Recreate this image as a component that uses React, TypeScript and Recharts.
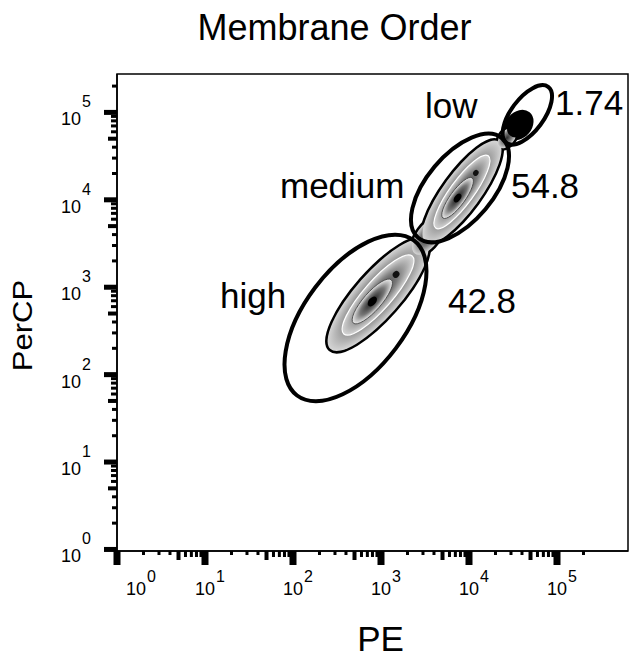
import { ReferenceArea, Scatter, ScatterChart, XAxis, YAxis } from "recharts";

const FONT = '"Liberation Sans", Arial, sans-serif';

// axis ranges (PE on x, PerCP on y, both log)
const peDomain = [1, 641000];
const percpDomain = [0.96, 275000];

const majorTicks = [1, 10, 100, 1000, 10000, 100000];
const minorSteps = [2, 3, 4, 5, 6, 7, 8, 9];
const axisTicks = majorTicks
	.flatMap((m) => [m, ...minorSteps.map((s) => s * m)])
	.filter((v) => v <= 200000);

// cell populations: centre and tip of the long axis, width ratio
const populations = [
	{ pe: 925, percp: 815, tipPe: 3206, tipPercp: 3390, ratio: 0.31, kind: "core" },
	{ pe: 3420, percp: 3857, tipPe: 4830, tipPercp: 6137, ratio: 0.5, kind: "plain" },
	{ pe: 8318, percp: 12300, tipPe: 21630, tipPercp: 46100, ratio: 0.3, kind: "core" },
	{ pe: 27040, percp: 51050, tipPe: 33040, tipPercp: 65000, ratio: 0.6, kind: "plain" },
	{ pe: 37000, percp: 71900, tipPe: 46800, tipPercp: 95200, ratio: 0.75, kind: "dense" },
];

// elliptical gates
const gates = [
	{ name: "high", pe: 513, percp: 445, tipPe: 2366, tipPercp: 3430, ratio: 0.52 },
	{ name: "medium", pe: 7900, percp: 13660, tipPe: 23600, tipPercp: 50800, ratio: 0.51 },
	{ name: "low", pe: 46000, percp: 93600, tipPe: 79400, tipPercp: 196000, ratio: 0.47 },
];

const gateLabels = [
	{ text: "low", pe: 3334, percp: 86500 },
	{ text: "1.74", pe: 100000, percp: 93600 },
	{ text: "medium", pe: 75, percp: 10500 },
	{ text: "54.8", pe: 31600, percp: 10500 },
	{ text: "high", pe: 15.6, percp: 580 },
	{ text: "42.8", pe: 6080, percp: 508 },
];

const geom = (p: any, ratio: number) => {
	const { x, y, width, height } = p;
	const rx = Math.hypot(width, height);
	const ang = (-Math.atan2(height, width) * 180) / Math.PI;
	return { rx, ry: rx * ratio, t: `translate(${x},${y + height}) rotate(${ang})` };
};

const blob = (p: any, c: any, pass: string) => {
	const { rx, ry, t } = geom(p, c.ratio);
	if (pass === "outline")
		return <ellipse transform={t} rx={rx} ry={ry} fill="none" stroke="#000" strokeWidth={5} />;
	if (pass === "fill")
		return <ellipse transform={t} rx={rx} ry={ry} fill={c.kind === "dense" ? "#000" : "url(#lvl)"} />;
	if (c.kind !== "core") return <g />;
	return (
		<g transform={t}>
			<ellipse rx={rx * 0.72} ry={ry * 0.64} fill="url(#lvl)" stroke="#fff" strokeWidth={1.2} />
			<ellipse cx={-rx * 0.12} rx={rx * 0.4} ry={ry * 0.4} fill="url(#lvl2)" stroke="#444" strokeWidth={0.8} />
			<ellipse cx={-rx * 0.12} rx={rx * 0.08} ry={ry * 0.16} fill="#000" />
			<ellipse cx={rx * 0.38} rx={rx * 0.05} ry={ry * 0.14} fill="#111" />
		</g>
	);
};

const gateShape = (p: any, g: any) => {
	const { rx, ry, t } = geom(p, g.ratio);
	return <ellipse transform={t} rx={rx} ry={ry} fill="none" stroke="#000" strokeWidth={4} />;
};

const mantissa = (v: number) => {
	const exp = Math.floor(Math.log10(v) + 1e-9);
	return { exp, m: Math.round(v / Math.pow(10, exp)) };
};

const XTick = (props: any) => {
	const { x, y, payload } = props;
	const { exp, m } = mantissa(payload.value);
	let mark;
	if (m === 1) mark = <rect x={x - 3.5} y={y} width={7} height={14} fill="#000" />;
	else if (m === 5) mark = <rect x={x - 2} y={y} width={4} height={9} fill="#000" />;
	else if (m > 5) mark = <rect x={x - 1.5} y={y} width={3} height={6} fill="#000" />;
	else mark = <rect x={x - 1.5} y={y} width={3} height={4} fill="#000" />;
	return (
		<g>
			{mark}
			{m === 1 && (
				<text x={exp === 0 ? x + 9 : x - 10} y={y + 44} fontSize={18} fontFamily={FONT} fill="#000">
					10
					<tspan dx={1} dy={-13} fontSize={16}>
						{exp}
					</tspan>
				</text>
			)}
		</g>
	);
};

const YTick = (props: any) => {
	const { x, y, payload } = props;
	const { exp, m } = mantissa(payload.value);
	let mark;
	if (m === 1) mark = <rect x={x - 13} y={y - 2.5} width={13} height={5} fill="#000" />;
	else if (m === 5) mark = <rect x={x - 9} y={y - 2} width={9} height={4} fill="#000" />;
	else if (m > 5) mark = <rect x={x - 6} y={y - 1.5} width={6} height={3} fill="#000" />;
	else mark = <rect x={x - 5} y={y - 1.5} width={5} height={3} fill="#000" />;
	return (
		<g>
			{mark}
			{m === 1 && (
				<text x={61} y={y + 13} fontSize={18} fontFamily={FONT} fill="#000">
					10
					<tspan dx={1} dy={-18} fontSize={16}>
						{exp}
					</tspan>
				</text>
			)}
		</g>
	);
};

const renderLabel = (p: any) => (
	<text x={p.cx - 2} y={p.cy} fontSize={35} fontFamily={FONT} fill="#000">
		{p.payload.text}
	</text>
);

export default function App() {
	return (
		<div style={{ position: "absolute", left: 0, top: 0, width: 629, height: 660, background: "#fff" }}>
			<svg width="0" height="0" style={{ position: "absolute" }}>
				<defs>
					<radialGradient id="lvl" cx="50%" cy="50%" r="50%">
						<stop offset="0%" stopColor="#2e2e2e" />
						<stop offset="55%" stopColor="#7c7c7c" />
						<stop offset="100%" stopColor="#d6d6d6" />
					</radialGradient>
					<radialGradient id="lvl2" cx="50%" cy="50%" r="50%">
						<stop offset="0%" stopColor="#1a1a1a" />
						<stop offset="60%" stopColor="#777" />
						<stop offset="100%" stopColor="#ececec" />
					</radialGradient>
				</defs>
			</svg>
			<div
				style={{
					position: "absolute",
					left: 40,
					top: 10,
					width: 589,
					textAlign: "center",
					fontFamily: FONT,
					fontSize: 36,
					lineHeight: "36px",
				}}
			>
				Membrane Order
			</div>
			<ScatterChart width={629} height={660} margin={{ top: 74, right: 1, left: 0, bottom: 0 }}>
				<XAxis
					type="number"
					dataKey="pe"
					scale="log"
					domain={peDomain}
					allowDataOverflow
					ticks={axisTicks}
					interval={0}
					tick={<XTick />}
					tickLine={false}
					tickSize={0}
					tickMargin={0}
					axisLine={{ stroke: "#000", strokeWidth: 1.5 }}
					height={109}
					label={{
						content: (lp: any) => (
							<text
								x={lp.viewBox.x + lp.viewBox.width / 2 + 8}
								y={651}
								textAnchor="middle"
								fontSize={35}
								fontFamily={FONT}
							>
								PE
							</text>
						),
					}}
				/>
				<YAxis
					type="number"
					dataKey="percp"
					scale="log"
					domain={percpDomain}
					allowDataOverflow
					ticks={axisTicks}
					interval={0}
					tick={<YTick />}
					tickLine={false}
					tickSize={0}
					tickMargin={0}
					axisLine={{ stroke: "#000", strokeWidth: 1.5 }}
					width={117}
					label={{
						content: (lp: any) => (
							<text
								transform={`translate(32, ${lp.viewBox.y + lp.viewBox.height / 2 + 13}) rotate(-90) scale(1.15, 1)`}
								textAnchor="middle"
								fontSize={27}
								fontFamily={FONT}
							>
								PerCP
							</text>
						),
					}}
				/>
				{populations.map((c, i) => (
					<ReferenceArea
						key={"o" + i}
						x1={c.pe}
						x2={c.tipPe}
						y1={c.percp}
						y2={c.tipPercp}
						ifOverflow="visible"
						shape={(p: any) => blob(p, c, "outline")}
					/>
				))}
				{populations.map((c, i) => (
					<ReferenceArea
						key={"f" + i}
						x1={c.pe}
						x2={c.tipPe}
						y1={c.percp}
						y2={c.tipPercp}
						ifOverflow="visible"
						shape={(p: any) => blob(p, c, "fill")}
					/>
				))}
				{populations.map((c, i) => (
					<ReferenceArea
						key={"i" + i}
						x1={c.pe}
						x2={c.tipPe}
						y1={c.percp}
						y2={c.tipPercp}
						ifOverflow="visible"
						shape={(p: any) => blob(p, c, "inner")}
					/>
				))}
				{gates.map((g) => (
					<ReferenceArea
						key={g.name}
						x1={g.pe}
						x2={g.tipPe}
						y1={g.percp}
						y2={g.tipPercp}
						ifOverflow="visible"
						shape={(p: any) => gateShape(p, g)}
					/>
				))}
				<ReferenceArea
					x1={peDomain[0]}
					x2={peDomain[1]}
					y1={percpDomain[0]}
					y2={percpDomain[1]}
					ifOverflow="visible"
					fill="none"
					fillOpacity={0}
					stroke="#000"
					strokeWidth={1.5}
				/>
				<Scatter data={gateLabels} isAnimationActive={false} shape={renderLabel} />
			</ScatterChart>
		</div>
	);
}
